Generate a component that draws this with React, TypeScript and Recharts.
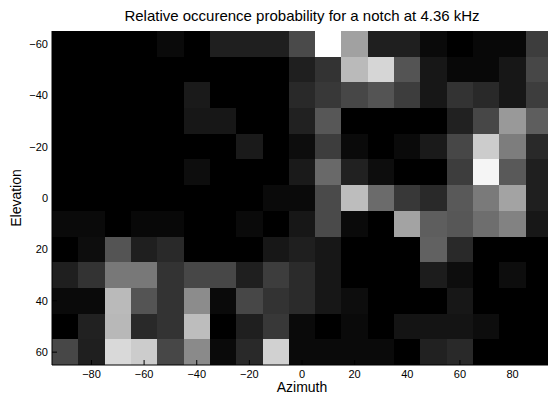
import { ScatterChart, Scatter, XAxis, YAxis, ReferenceArea, Label } from 'recharts'

// azimuth bin centres (deg) and elevation bin centres (deg), 10 deg bins
const azimuths = [-90, -80, -70, -60, -50, -40, -30, -20, -10, 0, 10, 20, 30, 40, 50, 60, 70, 80, 90]
const elevations = [-60, -50, -40, -30, -20, -10, 0, 10, 20, 30, 40, 50, 60]
const azTicks = [-80, -60, -40, -20, 0, 20, 40, 60, 80]
const elTicks = [-60, -40, -20, 0, 20, 40, 60]

// relative occurence probability per elevation row (0..1), one value per azimuth
const rowM60 = [0, 0, 0, 0, 0.04, 0, 0.12, 0.12, 0.12, 0.29, 1, 0.63, 0.12, 0.12, 0.04, 0, 0.03, 0.03, 0.24]
const rowM50 = [0, 0, 0, 0, 0, 0, 0, 0, 0, 0.12, 0.2, 0.73, 0.84, 0.33, 0.09, 0.03, 0.03, 0.09, 0.28]
const rowM40 = [0, 0, 0, 0, 0, 0.1, 0, 0, 0, 0.16, 0.22, 0.28, 0.33, 0.24, 0.09, 0.2, 0.16, 0.09, 0.24]
const rowM30 = [0, 0, 0, 0, 0, 0.09, 0.09, 0, 0, 0.13, 0.34, 0, 0, 0, 0, 0.13, 0.28, 0.6, 0.37]
const rowM20 = [0, 0, 0, 0, 0, 0, 0, 0.1, 0, 0.05, 0.24, 0.04, 0, 0.04, 0.1, 0.28, 0.8, 0.49, 0.16]
const rowM10 = [0, 0, 0, 0, 0, 0.05, 0, 0, 0, 0.1, 0.41, 0.13, 0.05, 0, 0, 0.24, 0.96, 0.35, 0.12]
const row0 = [0, 0, 0, 0, 0, 0, 0, 0, 0.04, 0.04, 0.29, 0.74, 0.42, 0.22, 0.16, 0.35, 0.48, 0.64, 0.12]
const row10 = [0.04, 0.04, 0, 0.03, 0.03, 0, 0, 0.04, 0, 0.09, 0.29, 0.04, 0, 0.64, 0.37, 0.34, 0.43, 0.51, 0.09]
const row20 = [0, 0.05, 0.33, 0.12, 0.16, 0, 0, 0, 0.09, 0.12, 0.09, 0, 0, 0, 0.38, 0.16, 0, 0, 0]
const row30 = [0.12, 0.2, 0.47, 0.47, 0.2, 0.28, 0.28, 0.12, 0.24, 0.17, 0.09, 0, 0, 0, 0.11, 0.05, 0, 0.05, 0]
const row40 = [0.04, 0.04, 0.73, 0.33, 0.2, 0.55, 0.04, 0.28, 0.2, 0.17, 0.09, 0.05, 0, 0, 0, 0.09, 0, 0, 0]
const row50 = [0, 0.13, 0.72, 0.16, 0.2, 0.74, 0, 0.12, 0.22, 0.04, 0, 0.04, 0, 0.08, 0.08, 0.08, 0.05, 0, 0]
const row60 = [0.28, 0.12, 0.85, 0.8, 0.28, 0.54, 0.04, 0.16, 0.82, 0.04, 0.04, 0.04, 0.04, 0, 0.13, 0.16, 0, 0, 0]

const rows = [rowM60, rowM50, rowM40, rowM30, rowM20, rowM10, row0, row10, row20, row30, row40, row50, row60]

const FONT = '"Liberation Sans", Arial, Helvetica, sans-serif'

const fmt = (v: number) => (v < 0 ? '\u2212' + Math.abs(v) : String(v))

const gray = (p: number) => {
  const g = Math.round(Math.max(0, Math.min(1, p)) * 255)
  return `rgb(${g},${g},${g})`
}

function BottomTick({ x, y, payload }: any) {
  return (
    <g>
      <line x1={x} x2={x} y1={y - 6} y2={y - 11} stroke="#000" />
      <text x={x} y={y + 7} textAnchor="middle" fontSize={11} fontFamily={FONT} fill="#000">
        {fmt(payload.value)}
      </text>
    </g>
  )
}

function LeftTick({ x, y, payload }: any) {
  return (
    <g>
      <line x1={x + 4} x2={x + 9} y1={y} y2={y} stroke="#000" />
      <text x={x} y={y + 4} textAnchor="end" fontSize={11} fontFamily={FONT} fill="#000">
        {fmt(payload.value)}
      </text>
    </g>
  )
}

function TopTick({ x, y }: any) {
  return <line x1={x} x2={x} y1={y} y2={y + 5} stroke="#000" />
}

function RightTick({ x, y }: any) {
  return <line x1={x} x2={x - 5} y1={y} y2={y} stroke="#000" />
}

export default function App() {
  const centres = rows.flatMap((r, i) => r.map((p, j) => ({ az: azimuths[j], el: elevations[i], p })))

  return (
    <div style={{ position: 'absolute', left: 0, top: 0, width: 548, height: 394, overflow: 'hidden', background: '#fff' }}>
      <div
        style={{
          position: 'absolute',
          left: 52,
          top: 7,
          width: 500,
          textAlign: 'center',
          fontFamily: FONT,
          fontSize: 15,
          lineHeight: '17px',
          color: '#000',
        }}
      >
        Relative occurence probability for a notch at 4.36 kHz
      </div>
      <ScatterChart width={556} height={394} margin={{ top: 31, right: 4, bottom: 0, left: 0 }}>
        {centres.map((c) => (
          <ReferenceArea
            key={`${c.az}_${c.el}`}
            x1={c.az - 5}
            x2={c.az + 5}
            y1={c.el - 5}
            y2={c.el + 5}
            fill={gray(c.p)}
            fillOpacity={1}
            stroke="none"
            ifOverflow="visible"
            shapeRendering="crispEdges"
          />
        ))}
        <Scatter data={centres} dataKey="el" fill="none" shape={() => <g />} isAnimationActive={false} />
        <XAxis
          type="number"
          dataKey="az"
          domain={[-95, 95]}
          allowDataOverflow
          ticks={azTicks}
          interval={0}
          tickSize={0}
          tickMargin={6}
          tickLine={false}
          tick={<BottomTick />}
          height={29}
          axisLine={{ stroke: '#000' }}
        >
          <Label value="Azimuth" position="insideBottom" offset={2} fontSize={14} fontFamily={FONT} fill="#000" />
        </XAxis>
        <XAxis
          xAxisId="top"
          orientation="top"
          type="number"
          domain={[-95, 95]}
          allowDataOverflow
          ticks={azTicks}
          interval={0}
          tickSize={0}
          tickMargin={0}
          tickLine={false}
          tick={<TopTick />}
          height={0}
          axisLine={{ stroke: '#bbb' }}
        />
        <YAxis
          type="number"
          dataKey="el"
          domain={[-65, 65]}
          reversed
          allowDataOverflow
          ticks={elTicks}
          interval={0}
          tickSize={0}
          tickMargin={4}
          tickLine={false}
          tick={<LeftTick />}
          width={52}
          axisLine={{ stroke: '#000' }}
        >
          <Label
            content={({ viewBox }: any) => {
              const cy = viewBox.y + viewBox.height / 2
              return (
                <text
                  x={21}
                  y={cy}
                  transform={`rotate(-90, 21, ${cy})`}
                  textAnchor="middle"
                  fontSize={14}
                  fontFamily={FONT}
                  fill="#000"
                >
                  Elevation
                </text>
              )
            }}
          />
        </YAxis>
        <YAxis
          yAxisId="right"
          orientation="right"
          type="number"
          domain={[-65, 65]}
          reversed
          allowDataOverflow
          ticks={elTicks}
          interval={0}
          tickSize={0}
          tickMargin={0}
          tickLine={false}
          tick={<RightTick />}
          width={0}
          axisLine={{ stroke: '#000' }}
        />
      </ScatterChart>
    </div>
  )
}
